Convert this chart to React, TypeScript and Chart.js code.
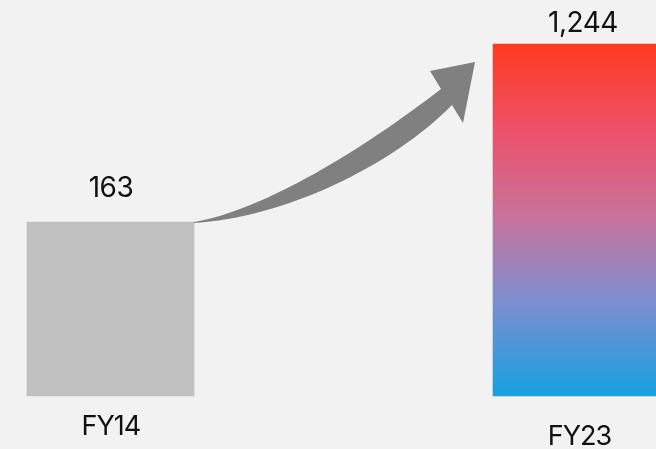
import React, { useEffect, useRef } from 'react';
import { Chart, registerables } from 'chart.js';

Chart.register(...registerables);

// ---- data ----
const categories = ['FY14', 'FY23'];
const values = [163, 1244];
const valueLabels = ['163', '1,244'];

// ---- styles ----
const BG = '#f2f2f2';
const GREY_BAR = '#c0c0c0';
const ARROW_COLOR = '#808080';
const TEXT_COLOR = '#111111';
const VALUE_FONT = '28px "Inter", "Noto Sans", sans-serif';
const CAT_FONT = '27px "Inter", "Noto Sans", sans-serif';
const GRADIENT_STOPS: [number, string][] = [
  [0, '#ff3a1f'],
  [0.24, '#ee5068'],
  [0.49, '#c8729c'],
  [0.73, '#7d8ed0'],
  [1, '#16a0e0'],
];
const VALUE_LABEL_OFFSET: [number, number][] = [[0.5, -25], [6.5, -12]];
const CAT_LABEL_OFFSET: [number, number][] = [[0.3, 39], [3, 49]];

// arrow outline, drawn in a reference frame whose start is the top-right corner
// of the first bar (194,222) and whose end is the top-left corner of the second (493,44)
const REF_S = [194, 222];
const REF_E = [493, 44];

const bgPlugin = {
  id: 'bg',
  beforeDraw(chart: any) {
    const { ctx, width, height } = chart;
    ctx.save();
    ctx.fillStyle = BG;
    ctx.fillRect(0, 0, width, height);
    ctx.restore();
  },
};

const decorPlugin = {
  id: 'decor',
  afterDatasetsDraw(chart: any) {
    const { ctx } = chart;
    const meta = chart.getDatasetMeta(0);
    const b0 = meta.data[0];
    const b1 = meta.data[1];
    if (!b0 || !b1) return;
    const S = [b0.x + b0.width / 2, b0.y];
    const E = [b1.x - b1.width / 2, b1.y];
    const kx = (E[0] - S[0]) / (REF_E[0] - REF_S[0]);
    const ky = (E[1] - S[1]) / (REF_E[1] - REF_S[1]);
    const m = (x: number, y: number): [number, number] => [
      S[0] + (x - REF_S[0]) * kx,
      S[1] + (y - REF_S[1]) * ky,
    ];
    ctx.save();
    ctx.fillStyle = ARROW_COLOR;
    ctx.beginPath();
    ctx.moveTo(...m(194, 222));
    ctx.bezierCurveTo(...m(264, 210), ...m(362, 150), ...m(441, 89));
    ctx.lineTo(...m(430, 71));
    ctx.lineTo(...m(475, 62));
    ctx.lineTo(...m(463, 123));
    ctx.lineTo(...m(452, 105));
    ctx.bezierCurveTo(...m(392, 166), ...m(284, 218), ...m(193, 223));
    ctx.closePath();
    ctx.fill();

    // labels
    ctx.fillStyle = TEXT_COLOR;
    ctx.textAlign = 'center';
    ctx.textBaseline = 'alphabetic';
    meta.data.forEach((bar: any, i: number) => {
      ctx.font = VALUE_FONT;
      (ctx as any).letterSpacing = '-0.5px';
      ctx.fillText(valueLabels[i], bar.x + VALUE_LABEL_OFFSET[i][0], bar.y + VALUE_LABEL_OFFSET[i][1]);
      ctx.font = CAT_FONT;
      (ctx as any).letterSpacing = '-1px';
      ctx.fillText(categories[i], bar.x + CAT_LABEL_OFFSET[i][0], bar.base + CAT_LABEL_OFFSET[i][1]);
    });
    ctx.restore();
  },
};

export default function App() {
  const ref = useRef<HTMLCanvasElement | null>(null);
  useEffect(() => {
    document.body.style.margin = '0';
    document.body.style.background = BG;
    const canvas = ref.current;
    if (!canvas) return;
    const chart = new Chart(canvas, {
      type: 'bar',
      data: {
        labels: categories,
        datasets: [
          {
            data: values,
            barThickness: 167,
            clip: false as any,
            borderWidth: 0,
            backgroundColor: (c: any) => {
              if (c.dataIndex === 0) return GREY_BAR;
              const area = c.chart.chartArea;
              if (!area) return GRADIENT_STOPS[0][1];
              const g = c.chart.ctx.createLinearGradient(0, area.top, 0, area.bottom);
              GRADIENT_STOPS.forEach(([o, col]) => g.addColorStop(o, col));
              return g;
            },
          },
        ],
      },
      options: {
        animation: false,
        responsive: true,
        maintainAspectRatio: false,
        layout: { padding: { top: 44, bottom: 53, left: 110.5, right: 79.5 } },
        plugins: { legend: { display: false }, tooltip: { enabled: false } },
        scales: {
          x: { type: 'category', offset: false, display: false, grid: { display: false } },
          y: {
            type: 'logarithmic',
            min: 22.4,
            max: 1244,
            bounds: 'data',
            display: false,
            grid: { display: false },
          },
        },
      },
      plugins: [bgPlugin, decorPlugin],
    });
    return () => chart.destroy();
  }, []);
  return (
    <div style={{ width: 656, height: 449, position: 'relative', background: BG }}>
      <canvas ref={ref} />
    </div>
  );
}
